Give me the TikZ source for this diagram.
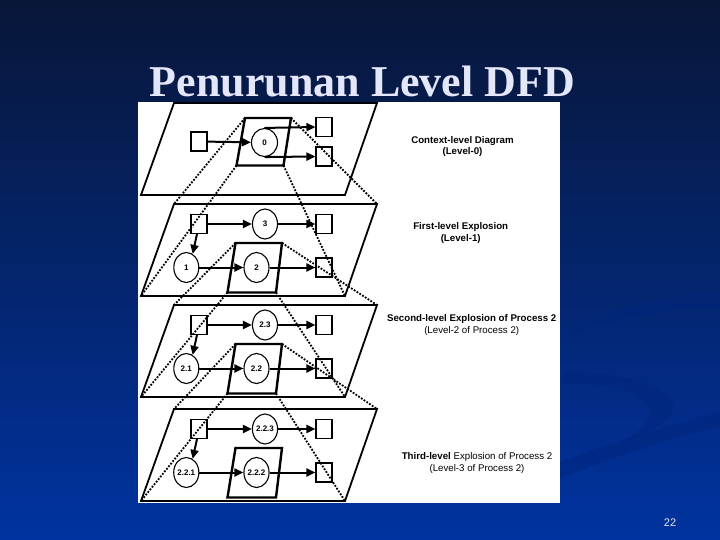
\documentclass[tikz,border=0pt]{standalone}
\usepackage{fontspec}
\setmainfont{Liberation Serif}
\newfontfamily\dfdfont{Liberation Sans}
\usetikzlibrary{arrows.meta,shapes.geometric}
\definecolor{slidetop}{RGB}{8,22,56}
\definecolor{slidemid}{RGB}{0,44,136}
\definecolor{slidebot}{RGB}{0,51,160}
\definecolor{swoosh}{RGB}{0,36,122}
\definecolor{titletext}{RGB}{228,230,250}
\tikzstyle{plane}=[
        draw=black,
        line width=1.8pt
]
\tikzstyle{procbox}=[
        draw=black,
        line width=2.4pt
]
\tikzstyle{entity}=[
        draw=black,
        line width=1.1pt,
        minimum width=16pt,
        minimum height=19pt,
        inner sep=0pt
]
\tikzstyle{bubble}=[
        ellipse,
        draw=black,
        line width=1.1pt,
        minimum width=25pt,
        minimum height=30pt,
        inner sep=0pt,
        font=\dfdfont\fontsize{8}{9}\selectfont\bfseries
]
\tikzstyle{flow}=[
        line width=2pt,
        -{Triangle[length=9pt,width=8pt]}
]
\tikzstyle{explode}=[
        line width=1.8pt,
        dash pattern=on 1.8pt off 1.5pt
]
\tikzstyle{levellabel}=[
        align=center,
        font=\dfdfont\fontsize{9.7}{11.5}\selectfont\bfseries
]

\begin{document}
\begin{tikzpicture}[x=1pt,y=-1pt]
                        \useasboundingbox (0,0) rectangle (720,540);
                        \shade[top color=slidetop, middle color=slidemid, bottom color=slidebot] (0,0) rectangle (720,540);

                        \fill[swoosh, opacity=0.45] (563,338) .. controls (610,305) and (660,298) .. (720,292) -- (720,306) .. controls (665,310) and (610,318) .. (563,338) -- cycle;
                        \fill[swoosh, opacity=0.45] (562,372) .. controls (640,372) and (690,395) .. (668,418) .. controls (655,430) and (640,436) .. (620,442) .. controls (648,428) and (660,412) .. (640,398) .. controls (620,386) and (590,382) .. (562,384) -- cycle;
                        \fill[swoosh, opacity=0.45] (560,462) .. controls (620,440) and (670,425) .. (720,412) -- (720,426) .. controls (670,438) and (620,455) .. (560,478) -- cycle;

                        \node[text=titletext, font=\bfseries\fontsize{44}{50}\selectfont, anchor=base] (title) at (362.5,97) {Penurunan Level DFD};
                        \node[text=titletext, font=\dfdfont\fontsize{11}{12}\selectfont] (pagenum) at (670,523) {22};

                        \fill[white] (138,102.5) rectangle (560,502.5);

                        \foreach \lv/\yy in {0/103,1/204,2/305,3/409} {
                            \coordinate (ptl\lv) at (174,\yy);
                            \coordinate (ptr\lv) at (377,\yy);
                            \coordinate (pbr\lv) at (345,\yy+92);
                            \coordinate (pbl\lv) at (141,\yy+92);
                            \draw[plane] (ptl\lv) -- (ptr\lv) -- (pbr\lv) -- (pbl\lv) -- cycle;
                        }

                        \coordinate (btl0) at (245,118);
                        \coordinate (btr0) at (291,118);
                        \coordinate (bbr0) at (283.5,165.5);
                        \coordinate (bbl0) at (236.5,165.5);
                        \draw[procbox] (btl0) -- (btr0) -- (bbr0) -- (bbl0) -- cycle;
                        \node[entity] (src0) at (199,141.5) {};
                        \node[bubble, minimum width=26pt, minimum height=28pt] (c0) at (264.5,142.5) {0};
                        \node[entity] (outa0) at (324,127) {};
                        \node[entity] (outb0) at (324,156.5) {};
                        \draw[flow] (src0) -- (c0);
                        \draw[flow] (c0.north) -- (outa0.west);
                        \draw[flow] (c0.south) -- (outb0.west);

                        \foreach \lv/\yy/\na/\nb/\nc in {1/204/3/1/2, 2/305/2.3/2.1/2.2, 3/409/2.2.3/2.2.1/2.2.2} {
                            \coordinate (btl\lv) at (235.5,\yy+39);
                            \coordinate (btr\lv) at (282,\yy+39);
                            \coordinate (bbr\lv) at (276,\yy+88.5);
                            \coordinate (bbl\lv) at (227.5,\yy+88.5);
                            \draw[procbox] (btl\lv) -- (btr\lv) -- (bbr\lv) -- (bbl\lv) -- cycle;
                            \node[entity] (src\lv) at (199,\yy+20) {};
                            \node[bubble] (ct\lv) at (265,\yy+20) {\na};
                            \node[entity] (outa\lv) at (324,\yy+20) {};
                            \node[bubble] (cl\lv) at (186.3,\yy+63.5) {\nb};
                            \node[bubble] (cm\lv) at (256.5,\yy+63.5) {\nc};
                            \node[entity] (outb\lv) at (324,\yy+63.5) {};
                            \draw[flow] (src\lv) -- (ct\lv);
                            \draw[flow] (ct\lv) -- (outa\lv);
                            \draw[flow] ([xshift=-2pt]src\lv.south) -- (cl\lv.65);
                            \draw[flow] (cl\lv) -- (cm\lv);
                            \draw[flow] (cm\lv) -- (outb\lv);
                        }

                        \foreach \lv/\nx in {0/1,1/2,2/3} {
                            \draw[explode] (btl\lv) -- (ptl\nx);
                            \draw[explode] (btr\lv) -- (ptr\nx);
                            \draw[explode] (bbr\lv) -- (pbr\nx);
                            \draw[explode] (bbl\lv) -- (pbl\nx);
                        }

                        \node[levellabel] (lab0) at (462.5,146.5) {Context-level Diagram\\(Level-0)};
                        \node[levellabel] (lab1) at (460.7,232.8) {First-level Explosion\\(Level-1)};
                        \node[levellabel] (lab2) at (471.7,325) {Second-level Explosion of Process 2\\\mdseries(Level-2 of Process 2)};
                        \node[levellabel] (lab3) at (477,462.8) {Third-level {\mdseries Explosion of Process 2}\\\mdseries(Level-3 of Process 2)};

                    \end{tikzpicture}
\end{document}
